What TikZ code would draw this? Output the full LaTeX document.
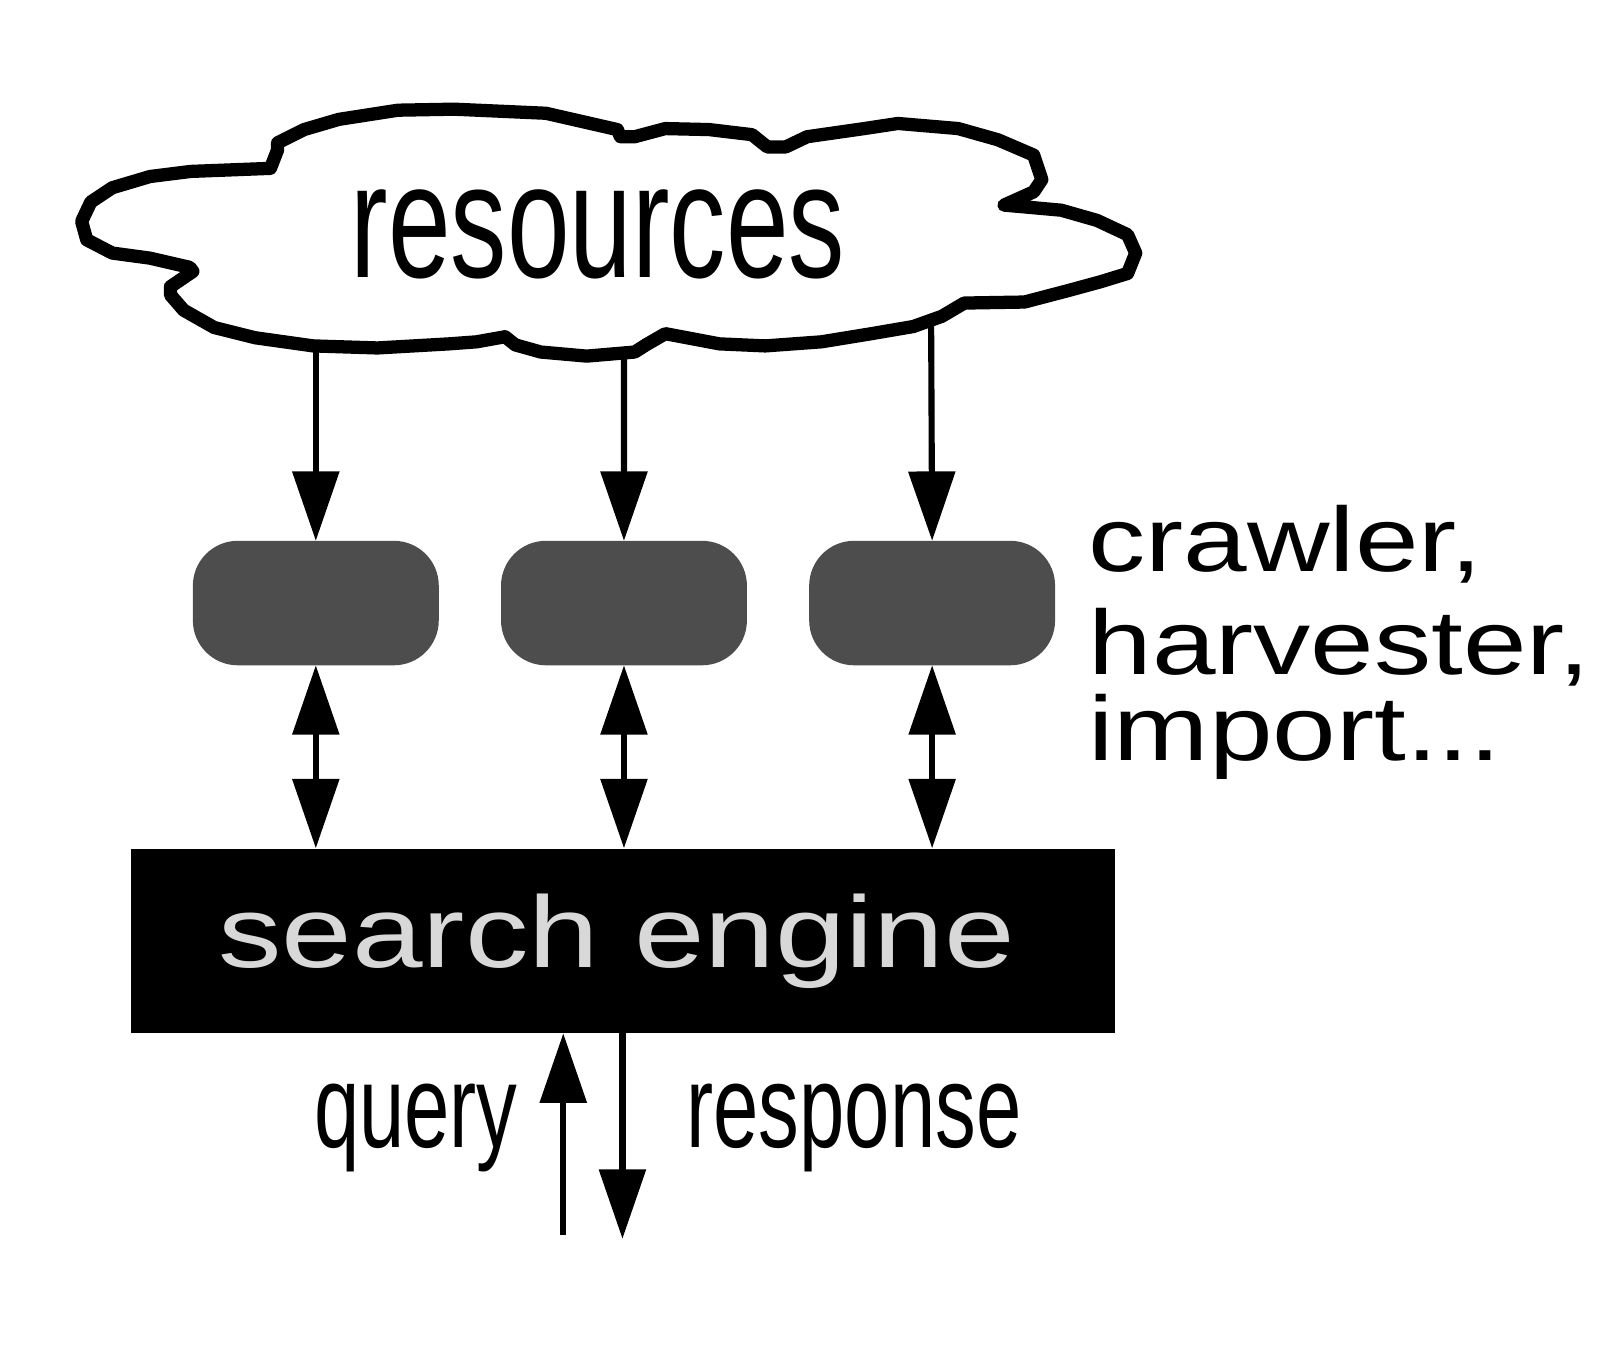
\documentclass[tikz,border=0pt]{standalone}
\usepackage{fontspec}
\usepackage{xcolor}
\usetikzlibrary{arrows.meta}
\usetikzlibrary{positioning}
\newfontfamily\narrowfont[FakeStretch=0.69]{Liberation Sans}
\newfontfamily\widefont[FakeStretch=1.25]{Liberation Sans}
\definecolor{boxgray}{HTML}{4D4D4D}
\definecolor{labelgray}{HTML}{D8D8D8}

\begin{document}
\begin{tikzpicture}[x=0.1mm, y=-0.1mm,
					arrow/.style={line width=0.6mm, -{Triangle[length=6.8mm, width=4.5mm]}},
					twoway/.style={line width=0.6mm, {Triangle[length=6.8mm, width=4.5mm]}-{Triangle[length=6.8mm, width=4.5mm]}},
					fetcher/.style={fill=boxgray, rounded corners=4.4mm, minimum width=24.1mm, minimum height=12.2mm, inner sep=0pt, outer sep=0pt},
				]
			        \useasboundingbox (0, 0) rectangle (1568, 1327);

			        % cloud
			        \draw[line width=1.3mm, line join=round] (80,217) -- (89,198) -- (110,184) -- (147,173) -- (187,168) -- (265,165) -- (272,147) -- (272,140) -- (298,127) -- (332,117) -- (390,108) -- (445,107) -- (535,111) -- (605,127) -- (608,134) -- (622,134) -- (652,126) -- (695,127) -- (737,132) -- (752,144) -- (770,144) -- (791,134) -- (847,126) -- (880,121) -- (939,126) -- (978,137) -- (1013,152) -- (1021,176) -- (1013,188) -- (984,201) -- (1040,206) -- (1075,216) -- (1105,230) -- (1113,248) -- (1105,268) -- (1079,276) -- (1046,285) -- (1004,296) -- (945,297) -- (923,310) -- (895,320) -- (854,327) -- (805,335) -- (750,339) -- (705,337) -- (652,327) -- (633,338) -- (622,345) -- (575,349) -- (530,345) -- (505,338) -- (495,330) -- (467,335) -- (440,337) -- (370,341) -- (307,339) -- (250,331) -- (210,321) -- (180,304) -- (167,289) -- (167,281) -- (189,266) -- (186,262) -- (147,253) -- (110,248) -- (85,235) -- cycle;
			        \node[anchor=base west, inner sep=0pt, font=\fontsize{45.5}{50}\narrowfont] (res) at (343, 272) {resources};
			        \coordinate (cl1) at (309.5, 339);
			        \coordinate (cl2) at (611.5, 346);
			        \coordinate (cl3) at (912.5, 316);

			        \node[fetcher] (c1) at (309.5, 591) {};
			        \node[fetcher, right=6.1mm of c1] (c2) {};
			        \node[fetcher, right=6.1mm of c2] (c3) {};
			        \node[anchor=base west, inner sep=0pt, align=left, font=\fontsize{25.5}{23.9}\widefont] (kinds) at (1066, 745) {crawler,\\[1.7mm]harvester,\\import...};

			        \node[fill=black, minimum width=96.5mm, minimum height=18mm, inner sep=0pt, text=labelgray, font=\fontsize{28.3}{30}\widefont] (se) at (610.5, 922) {search engine\hspace*{1.2mm}};

			        \draw[arrow] (cl1) -- (c1.north);
			        \draw[arrow] (cl2) -- (c2.north);
			        \draw[arrow] (cl3) -- (c3.north);
			        \draw[twoway] (c1.south) -- (c1.south |- se.north);
			        \draw[twoway] (c2.south) -- (c2.south |- se.north);
			        \draw[twoway] (c3.south) -- (c3.south |- se.north);

			        \coordinate (qin) at (552, 1210);
			        \coordinate (rout) at (610, 1214);
			        \draw[arrow] (qin) -- (qin |- se.south);
			        \draw[arrow] (rout |- se.south) -- (rout);
			        \node[anchor=base east, inner sep=0pt, font=\fontsize{32.9}{36}\narrowfont] (query) at (508, 1125) {query};
			        \node[anchor=base west, inner sep=0pt, font=\fontsize{32.9}{36}\narrowfont] (answer) at (672, 1125) {response};
			    \end{tikzpicture}
\end{document}
